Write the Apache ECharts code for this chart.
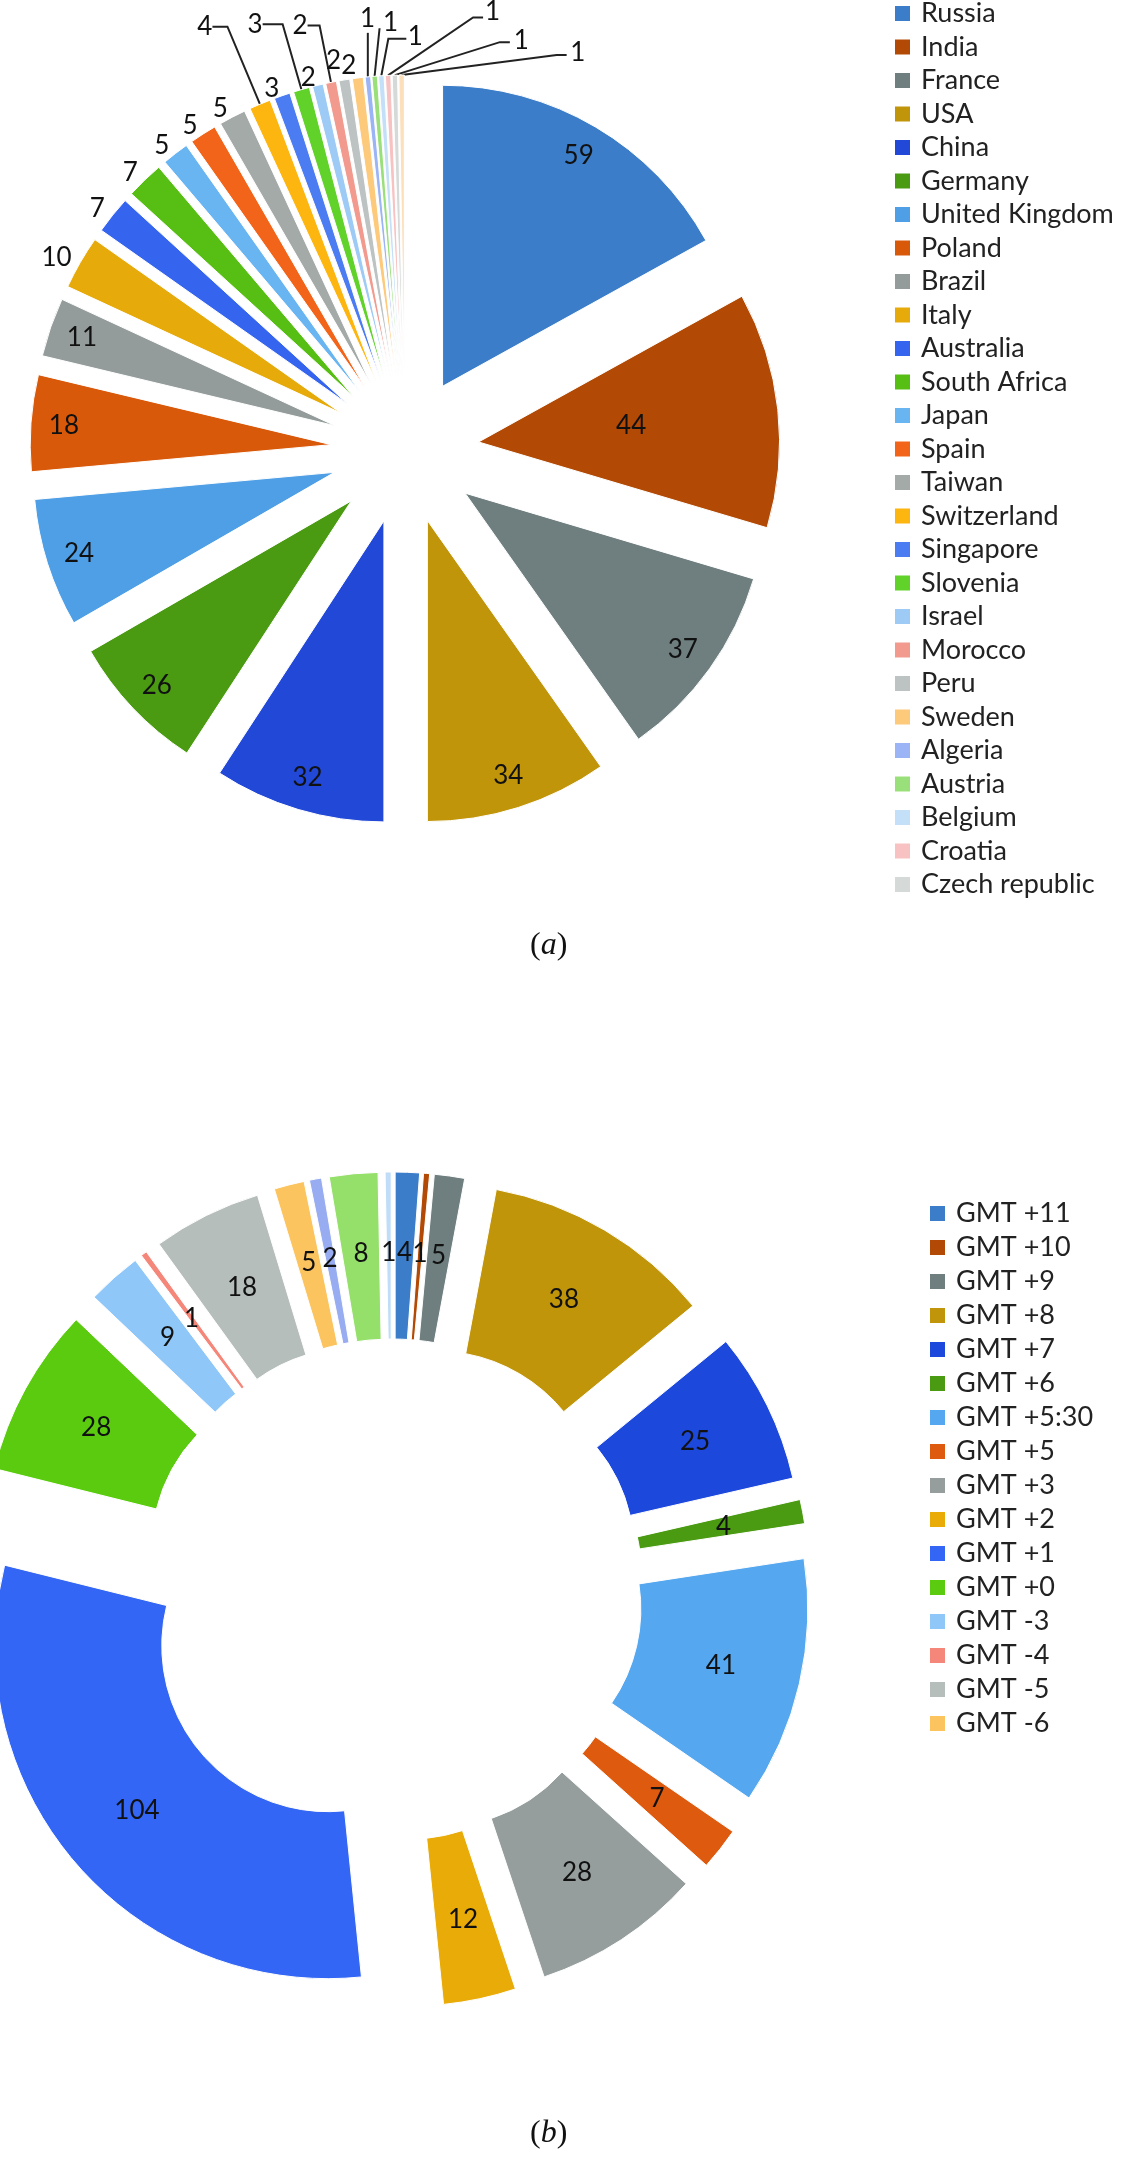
<!DOCTYPE html>
<html><head><meta charset="utf-8">
<script src="https://cdn.jsdelivr.net/npm/echarts@6/dist/echarts.min.js"></script>
<style>html,body{margin:0;padding:0;background:#fff}#c{width:1123px;height:2167px}</style>
</head><body><div id="c"></div>
<script>
// ---------- data (a): countries ----------
const countries = ['Russia','India','France','USA','China','Germany','United Kingdom','Poland','Brazil','Italy','Australia','South Africa','Japan','Spain','Taiwan','Switzerland','Singapore','Slovenia','Israel','Morocco','Peru','Sweden','Algeria','Austria','Belgium','Croatia','Czech republic','Other'];
const countryValues = [59,44,37,34,32,26,24,18,11,10,7,7,5,5,5,4,3,3,2,2,2,2,1,1,1,1,1,1];
const countryLegend = countries.slice(0, 27);
const countryColors = ['#3B7DC8','#B24A05','#6F7E7F','#C1950A','#2148D6','#4A9A12','#4F9FE6','#D9590B','#949C9B','#E6AA0A','#3565EE','#57BE13','#69B5F2','#F26419','#A4AAA8','#FDB50F','#4B7CF2','#60D22A','#9ECBF5','#F29A8E','#BCC3C2','#FDC97A','#9AB4F5','#9AE07A','#C4E0F8','#F8C2C2','#D5DAD9','#FCE0BC'];

// ---------- data (b): time zones ----------
const zones = ['GMT +11','GMT +10','GMT +9','GMT +8','GMT +7','GMT +6','GMT +5:30','GMT +5','GMT +3','GMT +2','GMT +1','GMT +0','GMT -3','GMT -4','GMT -5','GMT -6','GMT -7','GMT -8','GMT -9'];
const zoneValues = [4,1,5,38,25,4,41,7,28,12,104,28,9,1,18,5,2,8,1];
const zoneLegend = zones.slice(0, 16);
const zoneColors = ['#3B7DC8','#B24A05','#6F7E7F','#C1950A','#1D48DC','#4A9A12','#55A8F0','#DE5A0E','#959E9D','#E8AB07','#3366F5','#5BCB10','#8FC8F8','#F4877A','#B6BEBC','#FCC45E','#98ACF2','#95E06A','#BFDDF8'];

// ---------- label placement styles for (a) ----------
const halfRadiusLabel = ['India'];
const outsideLabelStyle = {
  'Italy': {len: 10}, 'Australia': {len: 10}, 'South Africa': {len: 10},
  'Japan': {len: 10}, 'Spain': {len: 10}, 'Taiwan': {len: 10},
  'Switzerland': {len: 84, len2: 15, line: true},
  'Singapore': {len: 8},
  'Slovenia': {len: 68, len2: 20, line: true},
  'Israel': {len: 8},
  'Morocco': {len: 58, len2: 12, line: true},
  'Peru': {len: 20}, 'Sweden': {len: 12},
  // labels of the thinnest slices: text placed with the line lengths, line redrawn below
  'Algeria': {len: 59, len2: -13, line: true, route: true},
  'Austria': {len: 54, len2: -28, line: true, route: true},
  'Belgium': {len: 39, len2: -44, line: true, route: true},
  'Croatia': {len: 64, len2: -115, line: true, route: true},
  'Czech republic': {len: 35, len2: -135, line: true, route: true},
  'Other': {len: 22, len2: -184, line: true, route: true}
};
// leader line routes (relative to the slice anchor given by the library)
const leaderRoutes = {
  'Algeria':        {bend: [0, -44],   run: 0},
  'Austria':        {bend: [5, -48],   run: 0},
  'Belgium':        {bend: [7, -37],   run: 18},
  'Croatia':        {bend: [85, -58],  run: 10},
  'Czech republic': {bend: [105, -33], run: 10},
  'Other':          {bend: [155, -20], run: 10}
};

const FONT = 'Lato';
const LABEL_SIZE = 26;

const chart = echarts.init(document.getElementById('c'), null, {renderer: 'canvas'});

const pieAData = countries.map((n, i) => {
  const cfg = outsideLabelStyle[n];
  const item = {name: n, value: countryValues[i], selected: true, itemStyle: {color: countryColors[i]}};
  if (halfRadiusLabel.indexOf(n) >= 0) {
    item.label = {show: true, position: 'inside', padding: 0};
    item.labelLine = {show: false};
  } else if (!cfg) {
    item.label = {show: false};
  } else {
    item.labelLine = {show: !!cfg.line, length: cfg.len, length2: cfg.len2 || 0};
    item.label = {padding: cfg.route ? 0 : (cfg.line ? [0, 0, 14, 0] : [0, 0, 24, 0])};
  }
  return item;
});
const pieALabelData = countries.map((n, i) => ({name: n, value: countryValues[i], selected: true}));
const pieBData = zones.map((n, i) => ({name: n, value: zoneValues[i], selected: true, itemStyle: {color: zoneColors[i]}}));

const baseLabel = {fontSize: LABEL_SIZE, fontFamily: FONT, color: '#111'};

function routeLabels(p) {
  const route = leaderRoutes[countries[p.dataIndex]];
  if (!route || !p.labelLinePoints) return {hideOverlap: false};
  const a = p.labelLinePoints[0];
  const b = [a[0] + route.bend[0], a[1] + route.bend[1]];
  const f = [b[0] + route.run, b[1]];
  return {hideOverlap: false, labelLinePoints: [a, b, f]};
}

const romanAndItalic = {n: {fontFamily: 'Liberation Serif', fontSize: 32, fill: '#111'}, i: {fontFamily: 'Liberation Serif', fontStyle: 'italic', fontSize: 32, fill: '#111'}};

chart.setOption({
  animation: false,
  backgroundColor: '#fff',
  legend: [
    {data: countryLegend, orient: 'vertical', left: 893, top: 0, padding: 0,
     itemWidth: 17, itemHeight: 17, itemGap: 6.5, icon: 'rect', selectedMode: false,
     textStyle: {fontSize: 27, lineHeight: 27, fontFamily: FONT, color: '#222', padding: [0, 0, 0, 5]}},
    {data: zoneLegend, orient: 'vertical', left: 928, top: 1200, padding: 0,
     itemWidth: 17, itemHeight: 17, itemGap: 7, icon: 'rect', selectedMode: false,
     textStyle: {fontSize: 27, lineHeight: 27, fontFamily: FONT, color: '#222', padding: [0, 0, 0, 5]}}
  ],
  graphic: [
    {type: 'text', left: 530, top: 930, style: {text: '{n|(}{i|a}{n|)}', rich: romanAndItalic}},
    {type: 'text', left: 530, top: 2118, style: {text: '{n|(}{i|b}{n|)}', rich: romanAndItalic}}
  ],
  series: [
    {
      type: 'pie', name: 'countries', center: [405, 450], radius: 301,
      startAngle: 90, clockwise: true, selectedMode: 'multiple', selectedOffset: 74,
      avoidLabelOverlap: false, emphasis: {disabled: true},
      itemStyle: {borderColor: '#fff', borderWidth: 1},
      label: Object.assign({show: true, position: 'outside', formatter: '{c}', distanceToLabelLine: 0}, baseLabel),
      labelLine: {show: false, length: 10, length2: 0, lineStyle: {color: '#222', width: 2}},
      labelLayout: routeLabels,
      data: pieAData
    },
    {
      type: 'pie', name: 'countryLabels', center: [405, 450], radius: [229, 301],
      startAngle: 90, clockwise: true, selectedMode: 'multiple', selectedOffset: 74,
      silent: true, legendHoverLink: false, avoidLabelOverlap: false, emphasis: {disabled: true},
      itemStyle: {color: 'rgba(0,0,0,0)', borderWidth: 0},
      label: Object.assign({show: true, position: 'inside', formatter: p => (p.value >= 11 && halfRadiusLabel.indexOf(p.name) < 0 ? String(p.value) : '')}, baseLabel),
      labelLine: {show: false},
      labelLayout: {hideOverlap: false},
      data: pieALabelData
    },
    {
      type: 'pie', name: 'zones', center: [392, 1590], radius: [166, 333],
      startAngle: 90, clockwise: true, selectedMode: 'multiple', selectedOffset: 85,
      avoidLabelOverlap: false, emphasis: {disabled: true},
      itemStyle: {borderColor: '#fff', borderWidth: 1},
      label: Object.assign({show: true, position: 'inside', formatter: '{c}', overflow: 'none'}, baseLabel),
      labelLine: {show: false},
      labelLayout: {hideOverlap: false},
      data: pieBData
    }
  ]
});
</script></body></html>
